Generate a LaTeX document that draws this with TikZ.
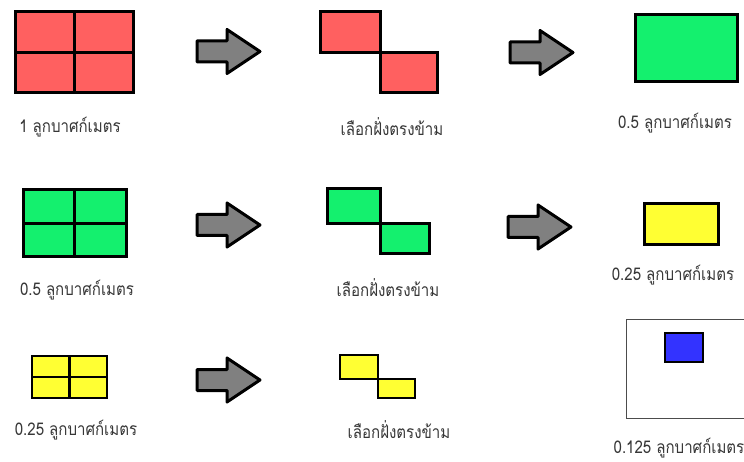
\documentclass[tikz,border=0pt]{standalone}
\usepackage{fontspec}
\newfontfamily\thaifont[Script=Thai, FakeStretch=0.86]{Loma}
\definecolor{cred}{RGB}{255,96,96}
\definecolor{cgreen}{RGB}{20,240,110}
\definecolor{cyellow}{RGB}{255,255,51}
\definecolor{cblue}{RGB}{51,51,255}
\definecolor{cgray}{RGB}{128,128,128}
\definecolor{ctext}{RGB}{55,55,55}
\tikzset{
  blk/.style={draw=black, line width=3pt, inner sep=0pt, anchor=north west, outer sep=0pt},
  redbox/.style={blk, fill=cred},
  greenbox/.style={blk, fill=cgreen},
  yellowbox/.style={blk, fill=cyellow},
  bluebox/.style={blk, fill=cblue},
  frame/.style={draw=black!70, line width=1.3pt, fill=white, inner sep=0pt, anchor=north west},
  divider/.style={draw=black, line width=3pt},
  lbl/.style={text=ctext, font=\thaifont\fontsize{17.5}{20}\selectfont, inner sep=0pt},
  blockarrow/.style={draw=black, line width=3pt, fill=cgray, line join=round},
}
\newcommand\barrow[2]{%
  \draw[blockarrow] (#1,#2-10.5) -- ++(30,0) -- ++(0,-11.5) -- (#1+63,#2) -- (#1+30,#2+22) -- ++(0,-11.5) -- (#1,#2+10.5) -- cycle;}
\begin{document}
\begin{tikzpicture}[x=1pt,y=-1pt]
\clip (0,0) rectangle (744,462);
\fill[white] (0,0) rectangle (744,462);
% Row 1
\node[redbox, minimum width=118pt, minimum height=81pt] (g1) at (15,12) {};
\draw[divider] (g1.north) -- (g1.south);
\draw[divider] (g1.west) -- (g1.east);
\node[lbl] (l1) at (70,127) {1 ลูกบาศก์เมตร};
\barrow{197}{51.5}
\node[redbox, minimum width=60pt, minimum height=41pt] (o1a) at (320,12) {};
\node[redbox, minimum width=57pt, minimum height=40pt] (o1b) at (o1a.south east) {};
\node[lbl] (m1) at (392,127) {เลือกฝั่งตรงข้าม};
\barrow{510}{52.5}
\node[greenbox, minimum width=102pt, minimum height=67pt] (r1) at (635,15) {};
\node[lbl] (n1) at (675,123) {0.5 ลูกบาศก์เมตร};
% Row 2
\node[greenbox, minimum width=103pt, minimum height=67pt] (g2) at (23,190) {};
\draw[divider] (g2.north) -- (g2.south);
\draw[divider] (g2.west) -- (g2.east);
\node[lbl] (l2) at (77,290) {0.5 ลูกบาศก์เมตร};
\barrow{197}{225}
\node[greenbox, minimum width=53pt, minimum height=35pt] (o2a) at (327,189) {};
\node[greenbox, minimum width=49pt, minimum height=30pt] (o2b) at (o2a.south east) {};
\node[lbl] (m2) at (388,288) {เลือกฝั่งตรงข้าม};
\barrow{508}{227}
\node[yellowbox, minimum width=74pt, minimum height=41pt] (r2) at (644,204) {};
\node[lbl] (n2) at (673,275) {0.25 ลูกบาศก์เมตร};
% Row 3
\node[yellowbox, line width=2.6pt, minimum width=75pt, minimum height=42pt] (g3) at (32,356) {};
\draw[divider, line width=2.6pt] (g3.north) -- (g3.south);
\draw[divider, line width=2.6pt] (g3.west) -- (g3.east);
\node[lbl] (l3) at (76,430) {0.25 ลูกบาศก์เมตร};
\barrow{197}{380}
\node[yellowbox, line width=2.6pt, minimum width=38pt, minimum height=24pt] (o3a) at (340,355) {};
\node[yellowbox, line width=2.6pt, minimum width=37pt, minimum height=19pt] (o3b) at (o3a.south east) {};
\node[lbl] (m3) at (399,430) {เลือกฝั่งตรงข้าม};
\node[frame, minimum width=140pt, minimum height=99pt] (w3) at (626,319) {};
\node[bluebox, line width=2.6pt, minimum width=38pt, minimum height=29pt] (b3) at (665,333) {};
\node[lbl] (n3) at (679,448) {0.125 ลูกบาศก์เมตร};
\end{tikzpicture}
\end{document}
